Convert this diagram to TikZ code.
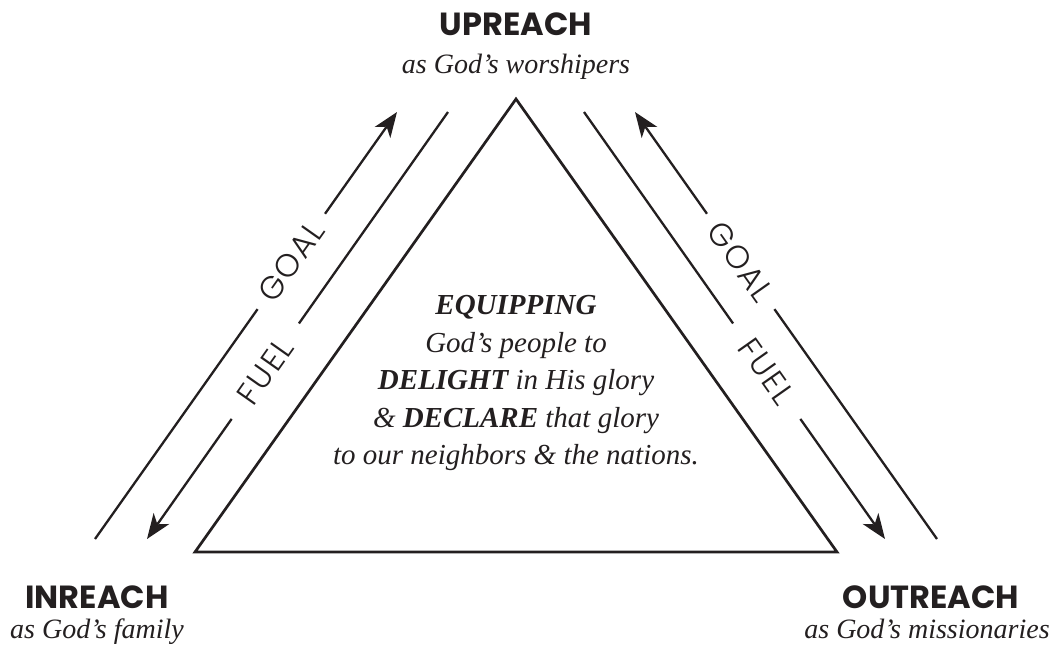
\documentclass[tikz,border=0pt]{standalone}
\usepackage{fontspec}
\setmainfont{Liberation Serif}
\newfontfamily\headfont{Poppins}
\newfontfamily\tagfont{Poppins Light}[LetterSpace=6]
\usetikzlibrary{arrows.meta}
\definecolor{ink}{RGB}{35,31,32}

\begin{document}
\begin{tikzpicture}[x=0.5pt,y=-0.5pt,
  hd/.style={font=\headfont\bfseries\fontsize{16}{16}\selectfont,text=ink,
             anchor=base,inner sep=0pt},
  sub/.style={font=\itshape\fontsize{14}{14}\selectfont,text=ink,
              anchor=base,inner sep=0pt},
  mid/.style={font=\itshape\fontsize{14.5}{18.75}\selectfont,text=ink,
              align=center,anchor=north,inner sep=0pt},
  tag/.style={font=\tagfont\fontsize{16}{16}\selectfont,text=ink,sloped,
              minimum width=58pt,inner xsep=0pt},
  ln/.style={draw=ink,line width=1.15pt},
  ar/.style={ln,-{Stealth[length=12.5pt,width=9.5pt,inset=3.5pt]}},
  tri/.style={draw=ink,line width=1.35pt,line join=miter}]

\useasboundingbox (0,0) rectangle (1053,654);

\coordinate (top) at (516,99);
\coordinate (bl) at (195,552);
\coordinate (br) at (837,552);
\draw[tri] (top) -- (bl) -- (br) -- cycle;

\node[mid] (eq) at (516,295) {\textbf{EQUIPPING}\\God's people to\\
  \textbf{DELIGHT} in His glory\\\& \textbf{DECLARE} that glory\\
  to our neighbors \& the nations.};

% left side
\coordinate (lgb) at (95,539);
\coordinate (lgt) at (397,112);
\coordinate (lft) at (448,112);
\coordinate (lfb) at (147,539);
\path (lgb) -- node[tag,pos=0.65] (lgoal) {GOAL} (lgt);
\path (lft) -- node[tag,pos=0.607] (lfuel) {FUEL} (lfb);
\draw[ln] (lgb) -- (lgoal);
\draw[ar] (lgoal) -- (lgt);
\draw[ln] (lft) -- (lfuel);
\draw[ar] (lfuel) -- (lfb);

% right side
\coordinate (rgb) at (937,539);
\coordinate (rgt) at (635,112);
\coordinate (rft) at (584,112);
\coordinate (rfb) at (885,539);
\path (rgb) -- node[tag,pos=0.65] (rgoal) {GOAL} (rgt);
\path (rft) -- node[tag,pos=0.607] (rfuel) {FUEL} (rfb);
\draw[ln] (rgb) -- (rgoal);
\draw[ar] (rgoal) -- (rgt);
\draw[ln] (rft) -- (rfuel);
\draw[ar] (rfuel) -- (rfb);

\node[hd] (up) at (516,35) {UPREACH};
\node[sub] (upsub) at (516,73) {as God's worshipers};
\node[hd] (in) at (97,608) {INREACH};
\node[sub] (insub) at (97,638) {as God's family};
\node[hd] (out) at (931,608) {OUTREACH};
\node[sub] (outsub) at (927,638) {as God's missionaries};
\end{tikzpicture}
\end{document}
